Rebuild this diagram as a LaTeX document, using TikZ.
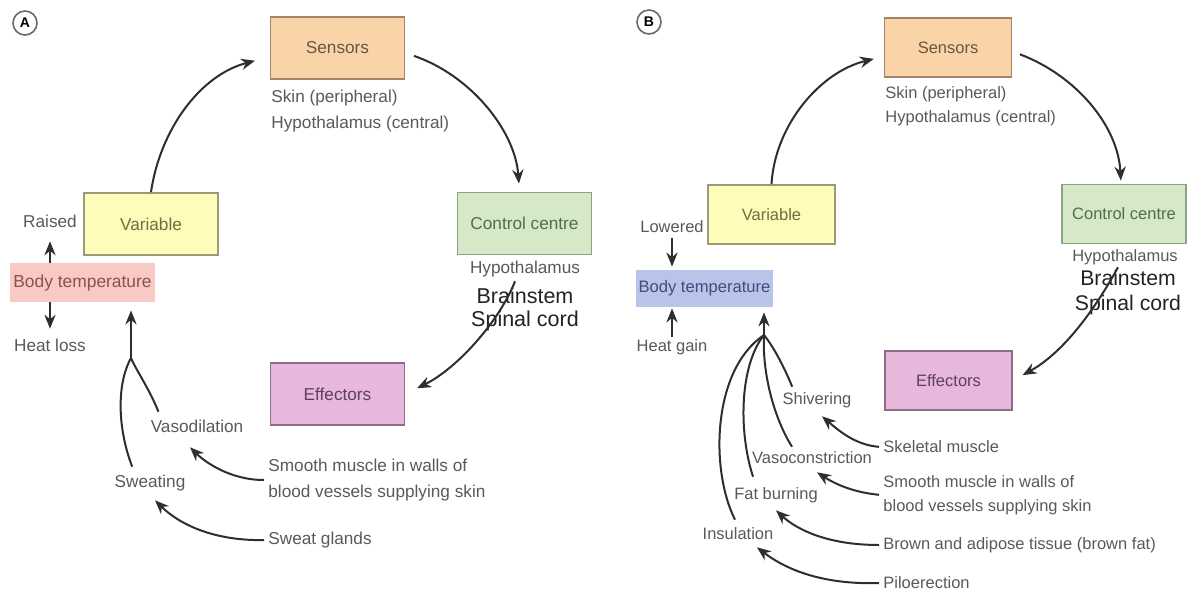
\documentclass[tikz,border=0pt]{standalone}
\usepackage{fontspec}
\setmainfont{Liberation Sans}
\usetikzlibrary{arrows.meta}

\definecolor{sensfill}{HTML}{FBD3A9}
\definecolor{sensdraw}{HTML}{A3866A}
\definecolor{senstext}{HTML}{6B5540}
\definecolor{varfill}{HTML}{FFFBB8}
\definecolor{vardraw}{HTML}{9A9A78}
\definecolor{vartext}{HTML}{6E6E40}
\definecolor{ctrlfill}{HTML}{D5E8C8}
\definecolor{ctrldraw}{HTML}{8AA382}
\definecolor{ctrltext}{HTML}{4F6E4F}
\definecolor{efffill}{HTML}{E7B8DC}
\definecolor{effdraw}{HTML}{8F6C8A}
\definecolor{efftext}{HTML}{5E3F5C}
\definecolor{bodyAfill}{HTML}{F9C9C6}
\definecolor{bodyAtext}{HTML}{8A5252}
\definecolor{bodyBfill}{HTML}{B9C4EB}
\definecolor{bodyBtext}{HTML}{3F4E80}
\definecolor{lblgray}{HTML}{595959}
\definecolor{bigtext}{HTML}{222222}
\definecolor{taggray}{HTML}{6A6A6A}
\definecolor{arrgray}{HTML}{2E2E2E}

\begin{document}
\begin{tikzpicture}[x=0.5pt, y=-0.5pt,
    box/.style={draw=#1draw, fill=#1fill, text=#1text, line width=0.9pt,
        minimum width=67pt, minimum height=31pt, inner sep=0pt,
        font=\fontsize{8.6}{10}\selectfont},
    boxb/.style={box=#1, minimum width=63.5pt, minimum height=29.5pt,
        font=\fontsize{8.25}{10}\selectfont},
    temp/.style={fill=#1fill, text=#1text, minimum width=72.5pt, minimum height=19.5pt,
        inner sep=0pt, font=\fontsize{8.7}{10}\selectfont},
    lbl/.style={text=lblgray, inner sep=1pt, text height=6.2pt, text depth=1.7pt,
        font=\fontsize{8.6}{13}\selectfont},
    lblb/.style={lbl, font=\fontsize{8.25}{12}\selectfont},
    note/.style={text=lblgray, inner sep=1pt, anchor=west, align=left,
        font=\fontsize{8.6}{13}\selectfont},
    noteb/.style={note, font=\fontsize{8.25}{12}\selectfont},
    big/.style={text=bigtext, inner sep=0pt, align=center,
        font=\fontsize{10.75}{11.5}\selectfont},
    tag/.style={circle, draw=taggray, line width=0.8pt, minimum size=12pt, inner sep=0pt,
        font=\fontsize{7}{8}\bfseries\selectfont},
    arr/.style={draw=arrgray, line width=1pt, -{Stealth[length=7pt, width=5.6pt]}},
    stem/.style={draw=arrgray, line width=1pt},
]
    \useasboundingbox (0,0) rectangle (1187,594);

    % Panel A: heat loss
    \node[tag] (tagA) at (25,23) {A};
    \node[box=sens] (sensA) at (337.5,48) {Sensors};
    \node[note] (sensAsub) at (269,111) {Skin (peripheral)\\Hypothalamus (central)};
    \node[box=var] (varA) at (151,224) {Variable};
    \node[box=ctrl] (ctrlA) at (524.5,223.5) {Control centre};
    \node[lbl] (hypA) at (525,269) {Hypothalamus};
    \node[big] (cnsA) at (525,309) {Brainstem\\Spinal cord};
    \node[box=eff] (effA) at (337.5,394) {Effectors};
    \node[temp=bodyA] (bodyA) at (82.5,282.5) {Body temperature};
    \node[lbl] (raisA) at (50,223) {Raised};
    \node[lbl] (lossA) at (50,347) {Heat loss};
    \node[lbl] (vasoA) at (197,428) {Vasodilation};
    \node[lbl] (sweatA) at (150,483) {Sweating};
    \node[note] (smoothA) at (266,480) {Smooth muscle in walls of\\blood vessels supplying skin};
    \node[note] (glandsA) at (266,540) {Sweat glands};

    % Loop A
    \draw[arr, shorten >=7.5pt] (varA.north) .. controls (160,130) and (200,75) .. ([yshift=-4.5pt]sensA.west);
    \draw[arr, shorten <=4.5pt, shorten >=4pt] ([yshift=-2.5pt]sensA.east) .. controls (470,75) and (515,130) .. ([xshift=-2.5pt]ctrlA.north);
    \draw[arr, shorten >=6.5pt] ([xshift=-5pt, yshift=-1pt]hypA.south) .. controls (500,320) and (458,368) .. (effA.east);

    \draw[arr, shorten >=4pt] (bodyA.north -| raisA) -- (raisA.south);
    \draw[arr, shorten >=4pt] (bodyA.south -| lossA) -- (lossA.north);

    % Responses A
    \coordinate (forkA) at (131,358);
    \draw[arr, shorten >=4pt] (forkA) -- (forkA |- bodyA.south);
    \draw[stem] ([xshift=5pt, yshift=3pt]vasoA.north west) .. controls (150,390) and (136,370) .. (forkA);
    \draw[stem] ([xshift=10pt, yshift=3pt]sweatA.north west) .. controls (118,430) and (116,385) .. (forkA);
    \draw[arr, shorten <=1pt] (smoothA.west) .. controls (230,480) and (205,462) .. ([xshift=-3.5pt, yshift=-4.5pt]vasoA.south);
    \draw[arr, shorten <=1pt] (glandsA.west) .. controls (215,541) and (180,525) .. ([xshift=2.5pt, yshift=-3.5pt]sweatA.south);

    % Panel B: heat gain
    \node[tag] (tagB) at (649,22) {B};
    \node[boxb=sens] (sensB) at (948,47.5) {Sensors};
    \node[noteb] (sensBsub) at (883,106.5) {Skin (peripheral)\\Hypothalamus (central)};
    \node[boxb=var] (varB) at (771.5,214.5) {Variable};
    \node[boxb=ctrl, minimum width=62pt] (ctrlB) at (1124,214) {Control centre};
    \node[lblb] (hypB) at (1125,257) {Hypothalamus};
    \node[big, font=\fontsize{10.6}{12.5}\selectfont] (cnsB) at (1128,293) {Brainstem\\Spinal cord};
    \node[boxb=eff] (effB) at (948.5,380.5) {Effectors};
    \node[temp=bodyB, minimum width=68.5pt, minimum height=18.5pt,
        font=\fontsize{8.3}{10}\selectfont] (bodyB) at (704.5,288.5) {Body temperature};
    \node[lblb] (lowB) at (672,228) {Lowered};
    \node[lblb] (gainB) at (672,347) {Heat gain};
    \node[lblb] (shivB) at (817,400) {Shivering};
    \node[lblb] (vconB) at (812,459) {Vasoconstriction};
    \node[lblb] (fatB) at (776,495) {Fat burning};
    \node[lblb] (insB) at (738,535) {Insulation};
    \node[noteb] (skelB) at (881,447) {Skeletal muscle};
    \node[noteb] (smoothB) at (881,495) {Smooth muscle in walls of\\blood vessels supplying skin};
    \node[noteb] (brownB) at (881,545) {Brown and adipose tissue (brown fat)};
    \node[noteb] (piloB) at (881,583) {Piloerection};

    % Loop B
    \draw[arr, shorten >=5pt] (varB.north) .. controls (775,125) and (820,72) .. ([yshift=-4.5pt]sensB.west);
    \draw[arr, shorten <=4pt, shorten >=1.5pt] ([yshift=-2pt]sensB.east) .. controls (1075,75) and (1118,125) .. ([xshift=-1.5pt]ctrlB.north);
    \draw[arr, shorten >=5.5pt] ([xshift=-3.5pt]hypB.south) .. controls (1100,300) and (1068,350) .. (effB.east);

    \draw[arr, shorten >=1.5pt] (lowB.south) -- (bodyB.north -| lowB);
    \draw[arr, shorten >=0.5pt] (gainB.north) -- (bodyB.south -| gainB);

    % Responses B
    \coordinate (forkB) at (764,335);
    \draw[arr, shorten >=2.5pt] (forkB) -- (forkB |- bodyB.south);
    \draw[stem] ([xshift=6pt, yshift=1.5pt]shivB.north west) .. controls (782,362) and (772,345) .. (forkB);
    \draw[stem] ([xshift=-10pt, yshift=1pt]vconB.north) .. controls (775,420) and (762,375) .. (forkB);
    \draw[stem] ([xshift=-11.5pt, yshift=4pt]fatB.north) .. controls (738,430) and (740,365) .. (forkB);
    \draw[stem] ([xshift=-1.5pt, yshift=2.5pt]insB.north) .. controls (710,470) and (712,370) .. (forkB);
    \draw[arr, shorten <=1pt] (skelB.west) .. controls (855,445) and (838,430) .. ([xshift=2.5pt, yshift=-3pt]shivB.south);
    \draw[arr, shorten <=1pt] (smoothB.west) .. controls (850,492) and (832,482) .. ([xshift=2.5pt, yshift=-1.5pt]vconB.south);
    \draw[arr, shorten <=1pt] (brownB.west) .. controls (825,545) and (795,528) .. ([yshift=-2.5pt]fatB.south);
    \draw[arr, shorten <=1pt] (piloB.west) .. controls (815,585) and (780,565) .. ([xshift=9.5pt, yshift=-1pt]insB.south);
\end{tikzpicture}
\end{document}
